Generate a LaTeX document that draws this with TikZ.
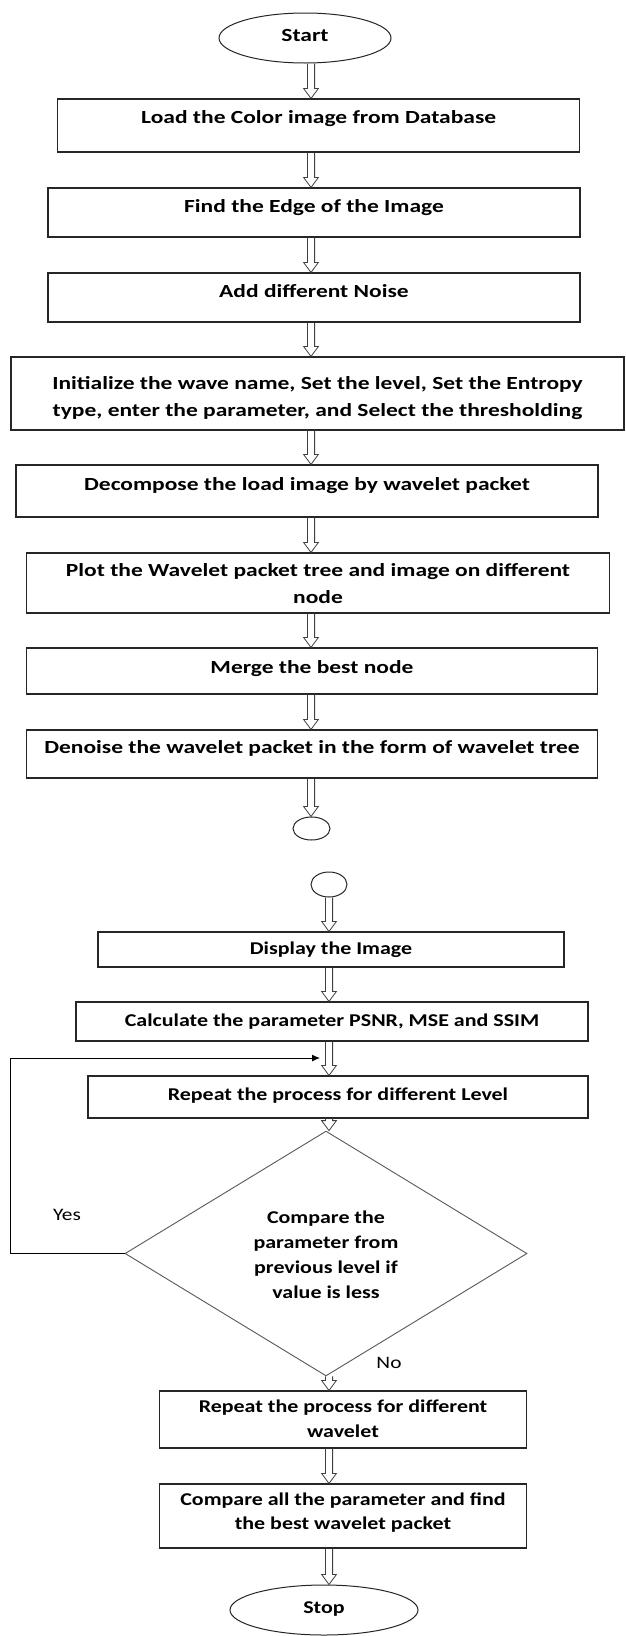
\documentclass[tikz,border=0pt]{standalone}
\usepackage{fontspec}
\setmainfont{Carlito}
\newfontfamily\upf{Carlito}[FakeStretch=1.27]
\newfontfamily\lowf{Carlito}[FakeStretch=1.22]
\usetikzlibrary{shapes.geometric,calc,arrows.meta}
\newcommand\lift[2]{\raisebox{#1}[\height][\depth]{\begin{tabular}{@{}c@{}}#2\end{tabular}}}
\begin{document}
\begin{tikzpicture}[x=1pt,y=-1pt,
  every node/.style={inner sep=0pt, text=black},
  upt/.style={font=\upf\bfseries\fontsize{18.5}{27}\selectfont},
  lowt/.style={font=\lowf\bfseries\fontsize{18}{25}\selectfont},
  stepbox/.style={draw=black!85, line width=1.1pt, rectangle},
  term/.style={draw=black!85, line width=1pt, ellipse},
  conn/.style={draw=black!85, line width=1pt, ellipse},
  hollow/.style={to path={let \p1=(\tikztostart), \p2=(\tikztotarget) in
     (\x1-3.6pt,\y1) -- (\x1-3.6pt,\y2+10pt) -- (\x1-7.4pt,\y2+10pt) -- (\x1,\y2)
     -- (\x1+7.4pt,\y2+10pt) -- (\x1+3.6pt,\y2+10pt) -- (\x1+3.6pt,\y1)}},
  harrow/.style={draw=black!75, line width=0.8pt, line join=miter},
  lbl/.style={font=\lowf\fontsize{17.5}{20}\selectfont}]

\useasboundingbox (0,0) rectangle (625,1636);
\fill[white] (0,0) rectangle (625,1636);

\coordinate (axA) at (311,0);
\coordinate (axB) at (329,0);

\node[term, upt, minimum width=172, minimum height=50] (start) at (305,38) {\lift{2pt}{Start}};
\node[stepbox, upt, minimum width=522, minimum height=53] (b1) at (318.7,125.5) {\lift{7pt}{Load the Color image from Database}};
\node[stepbox, upt, minimum width=532, minimum height=49] (b2) at (314,212.5) {\lift{5pt}{Find the Edge of the Image}};
\node[stepbox, upt, minimum width=532, minimum height=49] (b3) at (314,297.5) {\lift{5pt}{Add different Noise}};
\node[stepbox, upt, minimum width=613, minimum height=73] (b4) at (317.5,393.5) {\lift{-4pt}{Initialize the wave name, Set the level, Set the Entropy\\type, enter the parameter, and Select the thresholding}};
\node[stepbox, upt, minimum width=582, minimum height=52] (b5) at (307,491) {\lift{6pt}{Decompose the load image by wavelet packet}};
\node[stepbox, upt, minimum width=583, minimum height=60] (b6) at (318,583) {\lift{-2pt}{Plot the Wavelet packet tree and image on different\\node}};
\node[stepbox, upt, minimum width=571, minimum height=46] (b7) at (312,671) {\lift{3pt}{Merge the best node}};
\node[stepbox, upt, minimum width=571, minimum height=48] (b8) at (312,754) {\lift{6pt}{Denoise the wavelet packet in the form of wavelet tree}};
\node[conn, minimum width=37, minimum height=23] (c1) at (311.5,828.5) {};
\node[conn, minimum width=36, minimum height=25] (c2) at (329,884.5) {};
\node[stepbox, lowt, minimum width=466, minimum height=35] (b9) at (331,949.5) {Display the Image};
\node[stepbox, lowt, minimum width=512, minimum height=39] (b10) at (332,1021.5) {Calculate the parameter PSNR, MSE and SSIM};
\node[stepbox, lowt, minimum width=500, minimum height=42] (b11) at (338,1097) {\lift{2pt}{Repeat the process for different Level}};
\node[draw=black!65, line width=0.9pt, diamond, lowt, minimum width=402, minimum height=199] (dia) at (326,1253.5) {\lift{-2.5pt}{Compare the\\parameter from\\previous level if\\value is less}};
\node[stepbox, lowt, minimum width=367, minimum height=57] (b12) at (343,1419.5) {\lift{0pt}{Repeat the process for different\\wavelet}};
\node[stepbox, lowt, font=\lowf\bfseries\fontsize{18}{24}\selectfont, minimum width=367, minimum height=64] (b13) at (343,1516) {\lift{3pt}{Compare all the parameter and find\\the best wavelet packet}};
\node[term, lowt, minimum width=188, minimum height=50] (stop) at (324,1610) {\lift{2pt}{Stop}};

\node[lbl] (yes) at (67,1215) {Yes};
\node[lbl] (no) at (389,1363) {No};

% hollow arrows, upper part
\draw[harrow] (start.south -| axA) to[hollow] (b1.north -| axA);
\draw[harrow] (b1.south -| axA) to[hollow] (b2.north -| axA);
\draw[harrow] (b2.south -| axA) to[hollow] (b3.north -| axA);
\draw[harrow] (b3.south -| axA) to[hollow] (b4.north -| axA);
\draw[harrow] (b4.south -| axA) to[hollow] (b5.north -| axA);
\draw[harrow] (b5.south -| axA) to[hollow] (b6.north -| axA);
\draw[harrow] (b6.south -| axA) to[hollow] (b7.north -| axA);
\draw[harrow] (b7.south -| axA) to[hollow] (b8.north -| axA);
\draw[harrow] (b8.south -| axA) to[hollow] (c1.north -| axA);
% lower part
\draw[harrow] (c2.south -| axB) to[hollow] (b9.north -| axB);
\draw[harrow] (b9.south -| axB) to[hollow] (b10.north -| axB);
\draw[harrow] (b10.south -| axB) to[hollow] (b11.north -| axB);
\draw[harrow] (b11.south -| axB) to[hollow] (dia.north -| axB);
\draw[harrow] (dia.south -| axB) to[hollow] (b12.north -| axB);
\draw[harrow] (b12.south -| axB) to[hollow] (b13.north -| axB);
\draw[harrow] (b13.south -| axB) to[hollow] (stop.north -| axB);

% feedback loop
\coordinate (fbl) at (10,1253.5);
\coordinate (fbend) at (320,1058);
\draw[black, line width=1pt, -{Latex[length=8pt,width=7pt]}] (dia.west) -- (fbl) |- (fbend);
\end{tikzpicture}
\end{document}
